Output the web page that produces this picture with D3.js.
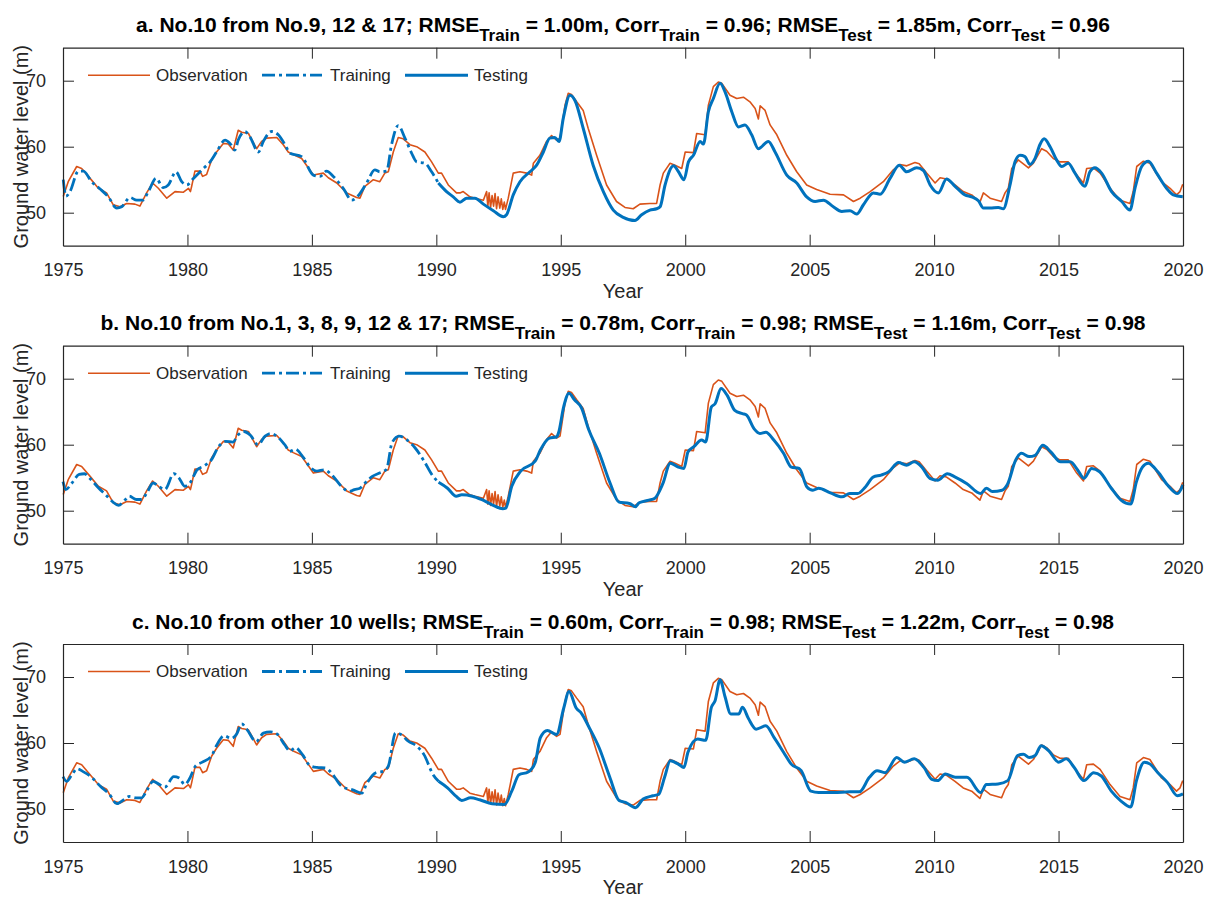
<!DOCTYPE html>
<html>
<head>
<meta charset="utf-8">
<script src="https://cdn.jsdelivr.net/npm/d3@7/dist/d3.min.js"></script>
<style>
  html, body { margin: 0; padding: 0; background: #fff; }
  svg { display: block; font-family: "Liberation Sans", Arial, Helvetica, sans-serif; }
</style>
</head>
<body>
<svg id="chart" width="1211" height="897"></svg>
<script>
// Observed groundwater level at well No.10 (year, m)
const observation = [
  [1975.01,52.45],[1975.21,54.7],[1975.55,57.0],[1975.75,56.7],[1976.09,55.2],[1976.42,53.7],[1976.75,53.0],
  [1977.02,51.2],[1977.29,50.9],[1977.56,51.4],[1977.89,51.3],[1978.09,51.0],[1978.36,53.0],[1978.6,54.5],
  [1978.83,53.7],[1979.17,52.2],[1979.5,53.2],[1979.84,53.1],[1980.04,53.7],[1980.12,53.2],[1980.17,54.0],
  [1980.3,56.3],[1980.5,56.3],[1980.61,55.5],[1980.77,55.8],[1980.97,58.0],[1981.17,59.2],[1981.44,60.5],
  [1981.64,60.4],[1981.84,59.5],[1982.04,62.5],[1982.18,62.2],[1982.45,62.0],[1982.78,59.7],[1982.98,60.8],
  [1983.18,61.3],[1983.59,61.4],[1983.85,60.3],[1984.05,59.2],[1984.25,58.8],[1984.59,58.2],[1985.06,55.7],
  [1985.46,56.0],[1985.66,55.3],[1986.0,54.5],[1986.4,53.0],[1986.8,52.3],[1986.93,52.2],[1987.13,54.0],
  [1987.47,55.0],[1987.73,54.7],[1987.93,56.0],[1988.07,56.2],[1988.27,59.2],[1988.47,61.4],[1988.67,61.2],
  [1988.94,60.3],[1989.21,60.0],[1989.54,59.2],[1989.81,57.7],[1990.08,56.0],[1990.21,56.0],[1990.48,54.2],
  [1990.81,53.0],[1990.95,53.0],[1991.08,53.2],[1991.35,52.4],[1991.55,52.2],[1991.89,51.9],[1992.02,53.2],
  [1992.07,51.0],[1992.12,53.0],[1992.18,50.8],[1992.24,52.6],[1992.3,51.0],[1992.36,52.9],[1992.42,50.6],
  [1992.48,52.4],[1992.55,50.7],[1992.61,52.1],[1992.67,50.5],[1992.73,51.6],[1992.78,50.5],[1992.89,52.2],
  [1993.09,56.0],[1993.36,56.2],[1993.63,56.0],[1993.83,55.7],[1993.9,57.5],[1994.16,58.7],[1994.43,60.8],
  [1994.63,61.7],[1994.83,61.0],[1994.97,61.3],[1995.17,66.3],[1995.3,68.1],[1995.43,67.9],[1995.64,66.8],
  [1995.9,65.5],[1996.1,62.8],[1996.44,58.7],[1996.84,54.2],[1997.24,51.7],[1997.58,50.8],[1997.91,50.6],
  [1998.18,51.3],[1998.58,51.4],[1998.85,51.4],[1998.99,54.2],[1999.12,56.0],[1999.39,57.5],[1999.59,57.2],
  [1999.86,56.7],[2000.0,59.2],[2000.33,59.1],[2000.46,62.0],[2000.8,61.8],[2000.93,66.3],[2001.13,69.1],
  [2001.33,69.8],[2001.47,69.6],[2001.8,67.8],[2002.07,67.3],[2002.34,67.5],[2002.6,66.8],[2002.81,65.8],
  [2002.94,64.2],[2003.01,66.2],[2003.21,65.5],[2003.41,63.3],[2003.68,61.8],[2004.08,58.7],[2004.48,56.2],
  [2004.88,54.2],[2005.28,53.5],[2005.82,52.8],[2006.36,52.7],[2006.76,51.7],[2007.03,52.2],[2007.43,53.2],
  [2007.96,54.7],[2008.36,56.5],[2008.63,57.3],[2008.9,57.1],[2009.23,57.6],[2009.4,57.4],[2009.7,56.0],
  [2010.04,54.5],[2010.24,55.3],[2010.5,55.1],[2010.84,54.2],[2011.17,53.2],[2011.51,52.7],[2011.84,51.6],
  [2011.98,53.0],[2012.25,52.2],[2012.71,51.7],[2012.85,53.0],[2012.98,53.7],[2013.12,56.7],[2013.38,58.0],
  [2013.79,56.8],[2013.99,57.5],[2014.32,59.7],[2014.52,59.3],[2014.79,58.2],[2015.06,57.7],[2015.39,57.7],
  [2015.73,55.7],[2016.0,54.5],[2016.13,56.7],[2016.4,56.8],[2016.67,56.0],[2017.07,53.7],[2017.47,51.9],
  [2017.87,51.4],[2018.0,53.2],[2018.14,57.0],[2018.41,57.8],[2018.67,57.5],[2019.14,54.7],[2019.48,53.7],
  [2019.74,52.7],[2019.88,53.2],[2019.99,54.3]
];

// Model output, case a: inputs from wells No.9, 12 & 17
const modelA = [
  [1975.01,55.0],[1975.12,52.5],[1975.28,53.2],[1975.62,56.3],[1975.82,56.3],[1976.15,54.7],[1976.49,53.6],
  [1976.82,52.4],[1977.16,50.7],[1977.36,50.9],[1977.69,52.3],[1977.96,51.9],[1978.2,51.9],[1978.43,53.2],
  [1978.74,55.2],[1979.03,53.8],[1979.23,54.2],[1979.54,56.2],[1979.77,54.7],[1979.97,54.2],[1980.24,55.2],
  [1980.64,56.7],[1980.91,57.7],[1981.17,59.2],[1981.51,61.0],[1981.71,60.5],[1981.91,59.5],[1982.04,61.0],
  [1982.31,62.3],[1982.51,61.5],[1982.85,59.2],[1983.05,60.8],[1983.38,62.3],[1983.65,61.8],[1983.92,60.3],
  [1984.12,59.0],[1984.59,58.5],[1985.06,55.7],[1985.33,55.5],[1985.59,56.3],[1985.86,55.5],[1986.26,53.7],
  [1986.6,51.9],[1986.87,52.6],[1987.2,54.5],[1987.53,56.5],[1987.73,56.2],[1988.0,56.3],[1988.2,60.3],
  [1988.47,63.2],[1988.74,61.3],[1989.01,59.0],[1989.21,57.7],[1989.54,57.5],[1989.81,56.2],[1990.08,54.5],
  [1990.41,53.2],[1990.68,52.4],[1990.95,51.6],[1991.22,52.2],[1991.55,52.2],[1991.89,51.3],[1992.29,50.3],
  [1992.69,49.4],[1992.82,49.7],[1993.09,52.7],[1993.36,54.7],[1993.76,56.2],[1994.03,57.2],[1994.3,59.2],
  [1994.56,61.3],[1994.76,61.4],[1994.93,60.8],[1995.1,64.3],[1995.37,67.8],[1995.57,67.0],[1995.9,62.8],
  [1996.3,57.2],[1996.71,53.2],[1997.11,50.4],[1997.51,49.3],[1997.98,48.8],[1998.25,49.7],[1998.58,50.4],
  [1998.85,50.6],[1998.99,50.9],[1999.19,54.2],[1999.53,57.1],[1999.73,56.2],[1999.95,55.0],[2000.13,57.7],
  [2000.33,58.7],[2000.6,60.8],[2000.73,60.4],[2000.93,65.3],[2001.13,67.3],[2001.4,69.6],[2001.6,68.3],
  [2001.87,65.3],[2002.14,63.0],[2002.4,63.3],[2002.67,61.8],[2002.94,59.7],[2003.34,60.8],[2003.61,59.2],
  [2004.08,55.7],[2004.48,54.5],[2004.88,52.4],[2005.22,51.7],[2005.55,51.9],[2005.95,50.9],[2006.29,50.2],
  [2006.62,50.3],[2006.89,49.8],[2007.16,51.2],[2007.56,53.0],[2007.83,52.8],[2008.23,55.2],[2008.6,57.2],
  [2008.9,56.2],[2009.3,56.8],[2009.57,56.4],[2009.84,54.2],[2010.17,53.0],[2010.5,55.1],[2010.84,54.0],
  [2011.24,52.7],[2011.51,52.4],[2011.78,51.8],[2011.98,50.7],[2012.25,50.7],[2012.58,50.8],[2012.78,50.6],
  [2013.05,54.2],[2013.25,57.7],[2013.45,58.7],[2013.65,58.5],[2013.85,57.3],[2014.05,58.2],[2014.25,60.3],
  [2014.42,61.2],[2014.66,60.0],[2014.92,58.0],[2015.13,57.0],[2015.39,57.5],[2015.66,56.0],[2016.06,54.0],
  [2016.26,56.2],[2016.46,56.8],[2016.73,56.0],[2017.13,53.2],[2017.54,51.7],[2017.87,50.4],[2018.07,53.7],
  [2018.34,57.0],[2018.61,57.8],[2018.94,56.0],[2019.34,53.7],[2019.61,52.7],[2019.99,52.4]
];

// Model output, case b: inputs from wells No.1, 3, 8, 9, 12 & 17
const modelB = [
  [1975.0,54.4],[1975.11,53.2],[1975.36,54.2],[1975.65,55.5],[1975.86,55.6],[1976.08,54.9],[1976.44,53.4],
  [1976.72,52.4],[1977.01,51.3],[1977.23,50.8],[1977.51,51.7],[1977.66,52.2],[1977.95,51.7],[1978.16,51.7],
  [1978.38,52.8],[1978.62,54.2],[1978.88,53.6],[1979.09,53.2],[1979.45,55.6],[1979.67,54.9],[1979.89,53.7],
  [1980.1,54.2],[1980.39,56.2],[1980.68,56.8],[1980.96,57.7],[1981.25,59.7],[1981.54,60.5],[1981.82,60.4],
  [1982.04,61.5],[1982.26,62.0],[1982.54,61.4],[1982.83,60.0],[1983.12,61.3],[1983.33,61.7],[1983.62,61.2],
  [1983.91,60.0],[1984.12,59.0],[1984.34,59.3],[1984.63,58.2],[1984.91,56.7],[1985.2,56.0],[1985.49,56.2],
  [1985.78,55.5],[1986.21,53.6],[1986.49,52.9],[1986.71,53.2],[1986.93,53.4],[1987.14,54.2],[1987.43,55.2],
  [1987.72,55.7],[1988.0,56.3],[1988.22,60.3],[1988.51,61.3],[1988.79,60.8],[1989.15,59.5],[1989.51,57.5],
  [1989.87,55.2],[1990.09,54.3],[1990.45,53.4],[1990.8,52.2],[1991.02,52.4],[1991.45,52.2],[1991.81,51.7],
  [1992.24,50.9],[1992.67,50.3],[1992.79,50.4],[1993.03,53.7],[1993.39,56.0],[1993.97,57.5],[1994.18,59.2],
  [1994.54,61.0],[1994.84,61.2],[1994.91,61.8],[1995.12,65.8],[1995.33,67.8],[1995.55,66.8],[1995.83,65.6],
  [1996.12,62.3],[1996.55,58.7],[1996.98,54.2],[1997.34,51.3],[1997.76,51.1],[1998.0,50.6],[1998.15,51.2],
  [1998.54,51.6],[1998.78,51.9],[1999.1,54.1],[1999.4,57.2],[1999.72,56.6],[1999.95,56.4],[2000.11,58.9],
  [2000.35,59.7],[2000.66,60.7],[2000.82,60.4],[2001.05,65.7],[2001.2,66.2],[2001.44,68.5],[2001.68,67.5],
  [2001.99,65.2],[2002.3,64.7],[2002.46,64.5],[2002.77,62.4],[2003.0,61.7],[2003.24,61.9],[2003.56,60.7],
  [2003.95,58.7],[2004.26,56.6],[2004.58,56.4],[2004.89,53.6],[2005.13,53.1],[2005.36,53.4],[2005.83,52.7],
  [2006.3,52.1],[2006.61,52.6],[2006.93,52.6],[2007.24,53.6],[2007.55,55.1],[2007.87,55.4],[2008.18,55.9],
  [2008.57,57.3],[2008.89,56.9],[2009.2,57.4],[2009.51,56.6],[2009.83,54.9],[2010.14,54.6],[2010.53,55.6],
  [2010.85,55.1],[2011.32,54.1],[2011.87,52.6],[2012.1,53.4],[2012.34,52.9],[2012.73,53.1],[2012.96,54.1],
  [2013.28,57.7],[2013.51,58.7],[2013.82,58.2],[2014.06,58.4],[2014.37,59.9],[2014.69,58.9],[2015.08,57.4],
  [2015.47,57.4],[2015.78,56.1],[2016.02,54.9],[2016.33,56.4],[2016.65,55.9],[2017.12,53.4],[2017.51,51.6],
  [2017.9,51],[2018.13,54.4],[2018.37,56.6],[2018.6,57.2],[2018.99,55.9],[2019.38,53.9],[2019.78,52.6],
  [2020.0,53.9]
];

// Model output, case c: inputs from the other 10 wells
const modelC = [
  [1975.0,54.9],[1975.14,54.2],[1975.36,55.2],[1975.57,56.1],[1975.79,55.7],[1976.15,54.8],[1976.51,53.4],
  [1976.87,52.2],[1977.16,50.8],[1977.44,51.4],[1977.66,51.9],[1977.95,51.7],[1978.16,51.7],[1978.38,52.9],
  [1978.62,54.2],[1978.88,53.7],[1979.09,53.3],[1979.45,54.9],[1979.67,54.7],[1979.89,53.7],[1980.1,54.7],
  [1980.32,56.5],[1980.6,57.1],[1980.96,58.0],[1981.18,59.7],[1981.47,61.1],[1981.75,60.7],[1981.97,61.3],
  [1982.18,62.9],[1982.4,62.0],[1982.76,60.2],[1983.05,61.5],[1983.33,61.7],[1983.62,61.3],[1983.91,59.7],
  [1984.12,58.8],[1984.34,59.3],[1984.63,58.2],[1984.91,56.6],[1985.2,56.3],[1985.56,56.2],[1985.78,55.5],
  [1986.21,53.4],[1986.64,52.9],[1987.0,52.4],[1987.21,53.9],[1987.57,55.5],[1987.86,55.7],[1988.07,56.5],
  [1988.36,61.5],[1988.58,61.3],[1988.86,60.3],[1989.22,59.5],[1989.51,58.2],[1989.87,55.2],[1990.09,54.2],
  [1990.45,53.2],[1990.8,51.9],[1991.02,51.3],[1991.38,51.7],[1991.74,51.4],[1992.24,50.8],[1992.74,50.7],
  [1993.03,52.7],[1993.32,55.2],[1993.69,55.6],[1993.97,57.0],[1994.18,60.8],[1994.46,61.9],[1994.83,61.3],
  [1995.12,65.3],[1995.33,67.8],[1995.62,65.3],[1995.83,64.5],[1996.12,62.5],[1996.55,59.2],[1996.98,54.7],
  [1997.34,51.3],[1997.6,51.0],[1998.0,50.2],[1998.31,51.5],[1998.7,52],[1998.93,52.2],[1999.17,54.8],
  [1999.4,57.3],[1999.72,56.8],[1999.95,56.3],[2000.11,58.6],[2000.5,60.6],[2000.82,60.4],[2001.05,65.4],
  [2001.2,66.4],[2001.4,69.6],[2001.6,67],[2001.83,64.4],[2002.15,64.4],[2002.3,65.4],[2002.54,63.7],
  [2002.85,62.1],[2003.24,62.6],[2003.56,60.9],[2003.95,58.6],[2004.26,56.8],[2004.66,55.8],[2005.05,52.7],
  [2005.36,52.5],[2005.99,52.5],[2006.61,52.6],[2007.0,52.6],[2007.4,54.8],[2007.71,55.8],[2008.03,55.5],
  [2008.5,57.8],[2008.81,57.1],[2009.2,57.6],[2009.59,56.3],[2009.91,54.5],[2010.14,54.3],[2010.45,55.3],
  [2010.85,54.8],[2011.32,54.8],[2011.87,52.5],[2012.1,53.7],[2012.57,53.8],[2012.96,54.3],[2013.35,58.1],
  [2013.59,58.3],[2013.82,57.8],[2014.06,58.1],[2014.3,59.6],[2014.61,58.8],[2015.0,57.1],[2015.31,57.6],
  [2015.63,56.3],[2016.02,54.3],[2016.41,55.5],[2016.72,55],[2017.12,52.7],[2017.51,51.2],[2017.9,50.3],
  [2018.13,54.3],[2018.45,57.1],[2018.68,56.8],[2018.99,55.5],[2019.38,54],[2019.78,52],[2020.0,52.3]
];

// Last year of the training period
const trainingEnd = 1990.1;

const xTicks = [1975, 1980, 1985, 1990, 1995, 2000, 2005, 2010, 2015, 2020];
const yTicks = [50, 60, 70];

// Panel titles: [text, isSubscript] runs
const panelTitles = [
  [["a. No.10 from No.9, 12 & 17; RMSE",0],["Train",1],[" = 1.00m, Corr",0],["Train",1],[" = 0.96; RMSE",0],["Test",1],[" = 1.85m, Corr",0],["Test",1],[" = 0.96",0]],
  [["b. No.10 from No.1, 3, 8, 9, 12 & 17; RMSE",0],["Train",1],[" = 0.78m, Corr",0],["Train",1],[" = 0.98; RMSE",0],["Test",1],[" = 1.16m, Corr",0],["Test",1],[" = 0.98",0]],
  [["c. No.10 from other 10 wells; RMSE",0],["Train",1],[" = 0.60m, Corr",0],["Train",1],[" = 0.98; RMSE",0],["Test",1],[" = 1.22m, Corr",0],["Test",1],[" = 0.98",0]]
];
const models = [modelA, modelB, modelC];
const legendLabels = ["Observation", "Training", "Testing"];

const obsColor = "#D95319";
const modelColor = "#0072BD";
const axisColor = "#262626";

const svg = d3.select("#chart");
const left = 63, right = 1183, plotH = 198;
const panelTops = [47.7, 345.7, 644];
const tickLen = 11;

const x = d3.scaleLinear().domain([1975, 2020]).range([left, right]);

panelTops.forEach((top, i) => {
  const y = d3.scaleLinear().domain([45, 75]).range([top + plotH, top]);
  const g = svg.append("g");

  const obsLine = d3.line().x(d => x(d[0])).y(d => y(d[1]));
  const modelLine = d3.line().x(d => x(d[0])).y(d => y(d[1])).curve(d3.curveMonotoneX);

  // series
  g.append("path").datum(observation)
    .attr("d", obsLine).attr("fill", "none")
    .attr("stroke", obsColor).attr("stroke-width", 1.6).attr("stroke-linejoin", "round");

  const train = models[i].filter(d => d[0] <= trainingEnd);
  const test = models[i].filter(d => d[0] >= trainingEnd - 0.05);

  g.append("path").datum(train)
    .attr("d", modelLine).attr("fill", "none")
    .attr("stroke", modelColor).attr("stroke-width", 2.8)
    .attr("stroke-dasharray", "13,4,3,4").attr("stroke-linejoin", "round");
  g.append("path").datum(test)
    .attr("d", modelLine).attr("fill", "none")
    .attr("stroke", modelColor).attr("stroke-width", 3).attr("stroke-linejoin", "round");

  // axes: bottom and left with labels, top and right ticks only, all ticks inward
  g.append("g").attr("transform", `translate(0,${top + plotH})`)
    .call(d3.axisBottom(x).tickValues(xTicks).tickFormat(d3.format("d")).tickSizeInner(-tickLen).tickSizeOuter(0).tickPadding(tickLen + 7))
    .call(a => a.selectAll("text").attr("font-size", 18).attr("fill", axisColor))
    .call(a => a.selectAll("line,path").attr("stroke", axisColor));
  g.append("g").attr("transform", `translate(0,${top})`)
    .call(d3.axisTop(x).tickValues(xTicks).tickFormat("").tickSizeInner(-tickLen).tickSizeOuter(0))
    .call(a => a.selectAll("line,path").attr("stroke", axisColor));
  g.append("g").attr("transform", `translate(${left},0)`)
    .call(d3.axisLeft(y).tickValues(yTicks).tickSizeInner(-tickLen).tickSizeOuter(0).tickPadding(tickLen + 6))
    .call(a => a.selectAll("text").attr("font-size", 18).attr("fill", axisColor))
    .call(a => a.selectAll("line,path").attr("stroke", axisColor));
  g.append("g").attr("transform", `translate(${right},0)`)
    .call(d3.axisRight(y).tickValues(yTicks).tickFormat("").tickSizeInner(-tickLen).tickSizeOuter(0))
    .call(a => a.selectAll("line,path").attr("stroke", axisColor));
  g.selectAll(".domain").attr("stroke-width", 1.2);

  // axis labels
  g.append("text").attr("x", (left + right) / 2).attr("y", top + plotH + 52)
    .attr("text-anchor", "middle").attr("font-size", 20).attr("fill", axisColor).text("Year");
  g.append("text").attr("transform", `translate(28,${top + plotH / 2}) rotate(-90)`)
    .attr("text-anchor", "middle").attr("font-size", 20).attr("fill", axisColor).text("Ground water level (m)");

  // title with subscripts
  const t = g.append("text").attr("x", (left + right) / 2).attr("y", top - 15.5)
    .attr("text-anchor", "middle").attr("font-size", 21).attr("font-weight", "bold").attr("fill", "#000");
  panelTitles[i].forEach(([s, sub], k) => {
    const prevSub = k > 0 && panelTitles[i][k - 1][1];
    const ts = t.append("tspan").text(s);
    if (sub) ts.attr("font-size", 17).attr("dy", 9);
    else if (prevSub) ts.attr("dy", -9);
  });

  // legend
  const ly = top + 27.5;
  const lg = g.append("g");
  const items = [
    {x0: 88, x1: 150, tx: 156, color: obsColor, w: 1.6, dash: null},
    {x0: 262, x1: 322, tx: 330, color: modelColor, w: 2.8, dash: "13,4,3,4"},
    {x0: 405, x1: 468, tx: 474, color: modelColor, w: 3, dash: null}
  ];
  items.forEach((it, k) => {
    const l = lg.append("line").attr("x1", it.x0).attr("x2", it.x1).attr("y1", ly).attr("y2", ly)
      .attr("stroke", it.color).attr("stroke-width", it.w);
    if (it.dash) l.attr("stroke-dasharray", it.dash);
    lg.append("text").attr("x", it.tx).attr("y", ly).attr("dy", "0.35em")
      .attr("font-size", 17).attr("fill", axisColor).text(legendLabels[k]);
  });
});
</script>
</body>
</html>
